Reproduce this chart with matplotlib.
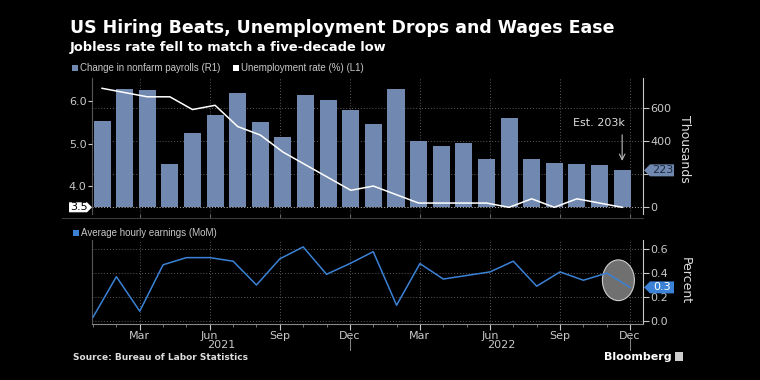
import numpy as np
import matplotlib.pyplot as plt
import matplotlib.transforms as mtransforms
from matplotlib.patches import Ellipse, Polygon, Rectangle
from matplotlib.lines import Line2D

# Monthly data, Jan 2021 - Dec 2022
payrolls = [520, 710, 704, 263, 447, 557, 689, 517, 424, 677, 647, 588,
            504, 714, 398, 368, 386, 293, 537, 292, 269, 263, 256, 223]
unemployment = [6.3, 6.2, 6.1, 6.1, 5.8, 5.9, 5.4, 5.2, 4.8, 4.5, 4.2, 3.9,
                4.0, 3.8, 3.6, 3.6, 3.6, 3.6, 3.5, 3.7, 3.5, 3.7, 3.6, 3.5]
earnings = [0.03, 0.37, 0.08, 0.47, 0.53, 0.53, 0.50, 0.30, 0.52, 0.62, 0.39, 0.48,
            0.58, 0.13, 0.48, 0.35, 0.38, 0.41, 0.50, 0.29, 0.41, 0.34, 0.40, 0.28]
tick_months = [2, 5, 8, 11, 14, 17, 20, 23]
tick_labels = ["Mar", "Jun", "Sep", "Dec", "Mar", "Jun", "Sep", "Dec"]
years = ["2021", "2022"]
estimate = 203

BG = "black"
BAR = "#7189b0"
BLUE = "#3b82d6"
GRID = "#5c5c5c"
TXT = "#c8c8c8"

plt.rcParams["font.family"] = ["DejaVu Sans"]

fig = plt.figure(figsize=(7.6, 3.8), dpi=100, facecolor=BG)

n = len(payrolls)
x = np.arange(n)
# bars sit on a slightly compressed grid compared to the date axis
bar_x = 0.385 + x * 0.9685

# ---------- top panel ----------
ax = fig.add_axes([0.1211, 0.4368, 0.725, 0.3579])
ax2 = ax.twinx()
ax.set_facecolor(BG)
ax2.patch.set_visible(False)

ax.bar(bar_x, payrolls, width=0.73, color=BAR, zorder=2)
ax.set_ylim(-40, 779)
ax.set_xlim(-0.043, 23.555)
ax.yaxis.tick_right()
ax.yaxis.set_label_position("right")
ax.set_yticks([0, 200, 400, 600])
ax.set_yticklabels(["0", "", "400", "600"])
ax.set_xticks(tick_months)
ax.set_xticklabels([])
ax.tick_params(axis="x", length=3, color="#666666")
ax.tick_params(axis="y", length=4, color=TXT, labelcolor=TXT, labelsize=8, pad=1)
ax.grid(True, color=GRID, linestyle=(0, (1, 2)), linewidth=0.7)
ax.set_axisbelow(True)
ax.axhline(0, color="#aaaaaa", linestyle=(0, (1, 2)), linewidth=0.7, zorder=1)
for s in ["top", "bottom"]:
    ax.spines[s].set_visible(False)
ax.spines["left"].set_color("#555555")
ax.spines["right"].set_color(TXT)
ax.text(1.076, 0.48, "Thousands", transform=ax.transAxes, rotation=-90,
        color="#dddddd", fontsize=9, ha="center", va="center")

ax2.plot(bar_x, unemployment, color="white", linewidth=1.1, zorder=3)
ax2.set_ylim(3.342, 6.542)
ax2.yaxis.tick_left()
ax2.set_yticks([4.0, 5.0, 6.0])
ax2.set_yticklabels(["4.0", "5.0", "6.0"])
ax2.tick_params(axis="y", length=3, color=TXT, labelcolor=TXT, labelsize=8, pad=1)
for s in ax2.spines.values():
    s.set_visible(False)

ax.text(bar_x[-1] - 1.0, 508, f"Est. {estimate}k", color="#dddddd", fontsize=8,
        ha="center", va="center")
ax.annotate("", xy=(bar_x[-1], 280), xytext=(bar_x[-1], 437),
            arrowprops=dict(arrowstyle="->", color="#bbbbbb", lw=0.8,
                            shrinkA=0, shrinkB=0))

# ---------- bottom panel ----------
bx = fig.add_axes([0.1211, 0.1466, 0.725, 0.2218])
bx.set_facecolor(BG)
bx.add_patch(Ellipse((22.5, 0.34), width=1.37, height=0.342,
                     facecolor="#707070", edgecolor="#cfcfcf", lw=0.8, zorder=2))
bx.plot(x, earnings, color=BLUE, linewidth=1.1, zorder=3)
bx.set_xlim(-0.043, 23.555)
bx.set_ylim(-0.03, 0.678)
bx.yaxis.tick_right()
bx.set_yticks([0.0, 0.2, 0.4, 0.6])
bx.set_yticklabels(["0.0", "0.2", "0.4", "0.6"])
bx.set_xticks(tick_months)
bx.set_xticklabels(tick_labels)
bx.set_xticks(x, minor=True)
bx.tick_params(axis="x", which="major", length=4, color=TXT, labelcolor=TXT,
               labelsize=8, pad=1)
bx.tick_params(axis="x", which="minor", length=2, color="#888888")
bx.tick_params(axis="y", length=4, color=TXT, labelcolor=TXT, labelsize=8, pad=1)
bx.grid(True, which="major", color=GRID, linestyle=(0, (1, 2)), linewidth=0.7)
bx.set_axisbelow(True)
bx.spines["top"].set_visible(False)
bx.spines["left"].set_color("#555555")
bx.spines["right"].set_color(TXT)
bx.spines["bottom"].set_color("#888888")
bx.text(1.076, 0.52, "Percent", transform=bx.transAxes, rotation=-90,
        color="#dddddd", fontsize=9, ha="center", va="center")

trans = mtransforms.blended_transform_factory(bx.transData, bx.transAxes)
for i, yr in enumerate(years):
    bx.text(5.5 + 12 * i, -0.25, yr, transform=trans, color=TXT, fontsize=8,
            ha="center", va="center")
for xm in [11, 23]:
    bx.add_line(Line2D([xm, xm], [-0.15, -0.31], transform=trans,
                       color="#888888", lw=0.7, clip_on=False))


# ---------- value tags ----------
def tag(axis, yval, text, fc, tc, side):
    ident = mtransforms.IdentityTransform()
    yp = axis.transData.transform((0, yval))[1]
    h = 6
    if side == "right":
        x0 = axis.transAxes.transform((1, 0))[0] + 1
        verts = [(x0, yp), (x0 + 6, yp + h), (x0 + 30, yp + h),
                 (x0 + 30, yp - h), (x0 + 6, yp - h)]
        tx = x0 + 18.5
    else:
        x1 = axis.transAxes.transform((0, 0))[0]
        verts = [(x1, yp), (x1 - 5, yp + 5), (x1 - 23, yp + 5),
                 (x1 - 23, yp - 5), (x1 - 5, yp - 5)]
        tx = x1 - 13
    fig.add_artist(Polygon(verts, closed=True, facecolor=fc, edgecolor="none",
                           transform=ident, zorder=5))
    fig.text(tx, yp, text, transform=ident, color=tc, fontsize=8,
             ha="center", va="center", zorder=6)


tag(ax, payrolls[-1], str(payrolls[-1]), BAR, "#1c2a40", "right")
tag(ax2, unemployment[-1], "3.5", "white", "black", "left")
tag(bx, earnings[-1], "0.3", BLUE, "white", "right")

# ---------- separator ----------
fig.add_artist(Line2D([62 / 760, 643 / 760], [1 - 218 / 380, 1 - 218 / 380],
                      color="#3a3a3a", lw=0.8))

# ---------- legends ----------
def legend_item(xp, yp, color, label):
    fig.add_artist(Rectangle((xp / 760, 1 - (yp + 3) / 380), 6 / 760, 6 / 380,
                             facecolor=color, edgecolor="none"))
    fig.text((xp + 8) / 760, 1 - yp / 380, label, color=TXT, fontsize=7,
             ha="left", va="center", family=["Liberation Sans", "DejaVu Sans"])


legend_item(72, 68, BAR, "Change in nonfarm payrolls (R1)")
legend_item(233, 68, "white", "Unemployment rate (%) (L1)")
legend_item(73, 233, BLUE, "Average hourly earnings (MoM)")

# ---------- titles ----------
fig.text(70 / 760, 1 - 28 / 380, "US Hiring Beats, Unemployment Drops and Wages Ease",
         color="white", fontsize=12.5, fontweight="bold", ha="left", va="center")
fig.text(70 / 760, 1 - 47 / 380, "Jobless rate fell to match a five-decade low",
         color="white", fontsize=9.4, fontweight="bold", ha="left", va="center")
fig.text(73 / 760, 1 - 357 / 380, "Source: Bureau of Labor Statistics",
         color="#dddddd", fontsize=6.5, fontweight="bold", ha="left", va="center")
fig.text(672 / 760, 1 - 357 / 380, "Bloomberg", color="white", fontsize=8,
         fontweight="bold", ha="right", va="center")
fig.add_artist(Rectangle((675 / 760, 1 - 361 / 380), 8 / 760, 9 / 380,
                         facecolor="#cccccc", edgecolor="none"))

fig.savefig("out.png", dpi=100, facecolor=BG)
